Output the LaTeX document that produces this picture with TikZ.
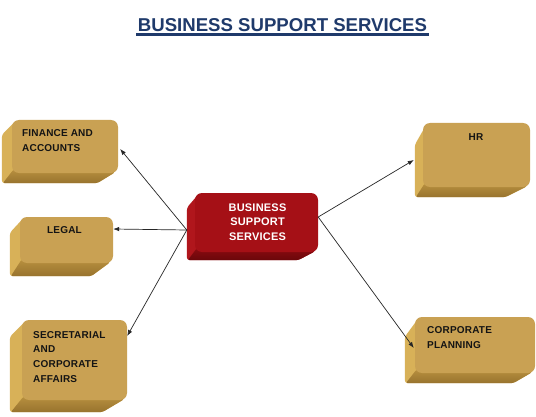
\documentclass[tikz,border=0pt]{standalone}
\usepackage{fontspec}
\setmainfont{Liberation Sans}
\newfontfamily\boxfont[LetterSpace=2]{Liberation Sans}
\usetikzlibrary{calc,backgrounds,arrows.meta}
\definecolor{goldfront}{HTML}{C9A153}
\definecolor{goldside}{HTML}{D8B158}
\definecolor{golddarkA}{HTML}{B8903F}
\definecolor{golddarkB}{HTML}{98732E}
\definecolor{redfront}{HTML}{A51016}
\definecolor{redside}{HTML}{B0161C}
\definecolor{reddarkA}{HTML}{8A0B10}
\definecolor{reddarkB}{HTML}{6A070A}
\definecolor{titleblue}{HTML}{1F3A6B}
\definecolor{boxtext}{HTML}{141414}
\tikzset{
  front/.style={rounded corners=7pt, inner sep=0pt, draw=none},
  goldbox/.style={front, fill=goldfront},
  redbox/.style={front, fill=redfront},
  btext/.style={font={\boxfont\bfseries\fontsize{10}{15}\selectfont}, text=boxtext, inner sep=0pt, align=left},
  ctext/.style={font={\boxfont\bfseries\fontsize{11}{14.5}\selectfont}, text=white, inner sep=0pt, align=center},
  conn/.style={draw=black!85, line width=0.7pt, -{Latex[length=6pt,width=4.5pt]}}
}
% #1 node, #2 L, #3 T, #4 B, #5 R, #6 colour prefix
\newcommand\boxdepth[6]{%
  \begin{scope}[on background layer]
    \fill[#6side, rounded corners=3pt]
      ($(#1.north west)+(4,-1)$) -- ($(#1.north west)+(-#2,-#3)$)
      -- ($(#1.south west)+(-#2,-#4)$) -- ($(#1.south east)+(-#5,-#4)$)
      -- ($(#1.south east)+(-3,1)$) -- ($(#1.south west)+(3,3)$) -- cycle;
    \shade[top color=#6darkA, bottom color=#6darkB, rounded corners=2pt]
      ($(#1.south west)+(2,4)$) -- ($(#1.south west)+(-#2+1,-#4)$)
      -- ($(#1.south east)+(-#5,-#4)$) -- ($(#1.south east)+(-3,1)$)
      -- ($(#1.south east)+(-6,4)$) -- cycle;
  \end{scope}}
\begin{document}
\begin{tikzpicture}[x=1pt,y=1pt]
\useasboundingbox (0,0) rectangle (536,416);
\begin{scope}[on background layer]
\fill[white] (0,0) rectangle (536,416);
\end{scope}
% title
\node[anchor=base, inner sep=0pt, text=titleblue, font={\bfseries\fontsize{18.6}{20}\selectfont}] (title) at (282.5,384.3) {BUSINESS SUPPORT SERVICES};
\draw[titleblue, line width=2.2pt] ([xshift=-1.5pt,yshift=-2.8pt]title.base west) -- ([xshift=1.5pt,yshift=-2.8pt]title.base east);
% boxes
\node[goldbox, minimum width=106pt, minimum height=53pt] (fin) at (65,269.5) {};
\node[goldbox, minimum width=93pt, minimum height=46pt] (legal) at (66.5,176) {};
\node[goldbox, minimum width=105pt, minimum height=80pt] (sec) at (74.5,56) {};
\node[goldbox, minimum width=107pt, minimum height=64pt] (hr) at (476.5,261) {};
\node[goldbox, minimum width=120pt, minimum height=56pt] (corp) at (475,71) {};
\node[redbox, minimum width=123pt, minimum height=59pt] (bss) at (256.5,193.5) {};
\boxdepth{fin}{10}{15}{10}{21}{gold}
\boxdepth{legal}{10}{16}{13}{22}{gold}
\boxdepth{sec}{12}{17}{12}{25}{gold}
\boxdepth{hr}{8}{22}{10}{25}{gold}
\boxdepth{corp}{10}{20}{10}{22}{gold}
\boxdepth{bss}{8}{15}{8}{20}{red}
% texts
\node[btext, anchor=north west] (finT) at (22,286.5) {FINANCE AND\\ACCOUNTS};
\node[btext] (legalT) at (64.5,185.5) {LEGAL};
\node[btext, anchor=north west, font={\boxfont\bfseries\fontsize{10}{14.7}\selectfont}] (secT) at (33,85) {SECRETARIAL\\AND\\CORPORATE\\AFFAIRS};
\node[btext] (hrT) at (476,278.5) {HR};
\node[btext, anchor=north west] (corpT) at (427,89.3) {CORPORATE\\PLANNING};
\node[ctext, anchor=north] (bssT) at (257.5,212.7) {BUSINESS\\SUPPORT\\SERVICES};
% connectors
\draw[conn] ([shift={(-8,-7.5)}]bss.west) -- ([shift={(2,-2.5)}]fin.east);
\draw[conn] ([shift={(-8,-7.5)}]bss.west) -- ([yshift=11]legal.east);
\draw[conn] ([shift={(-8,-7.5)}]bss.west) -- ([yshift=24]sec.east);
\draw[conn] ([yshift=5.5]bss.east) -- ([shift={(-9,-5)}]hr.west);
\draw[conn] ([yshift=5.5]bss.east) -- ([shift={(-1,-3)}]corp.west);
\end{tikzpicture}
\end{document}
